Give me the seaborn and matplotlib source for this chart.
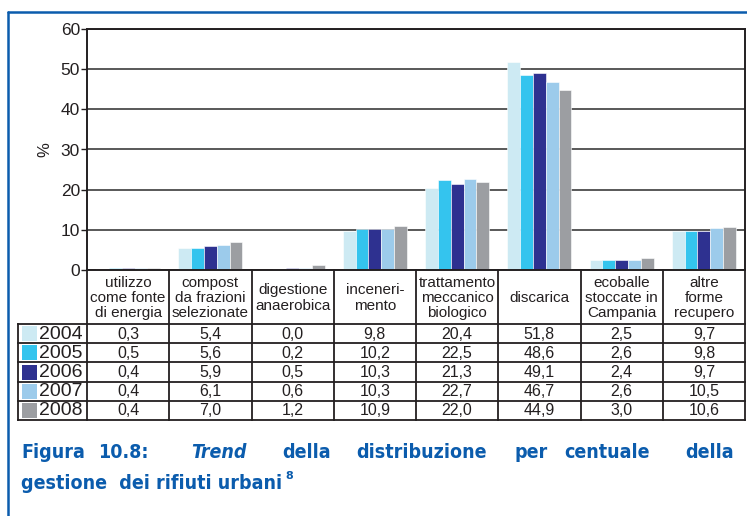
import matplotlib
matplotlib.use("Agg")
import matplotlib.pyplot as plt
from matplotlib.lines import Line2D
from matplotlib.patches import Rectangle
import seaborn as sns
import pandas as pd

# categorie (come nell'intestazione della tabella)
categorie = [
    "utilizzo\ncome fonte\ndi energia",
    "compost\nda frazioni\nselezionate",
    "digestione\nanaerobica",
    "inceneri-\nmento",
    "trattamento\nmeccanico\nbiologico",
    "discarica",
    "ecoballe\nstoccate in\nCampania",
    "altre\nforme\nrecupero",
]
anni = ["2004", "2005", "2006", "2007", "2008"]
v2004 = [0.3, 5.4, 0.0, 9.8, 20.4, 51.8, 2.5, 9.7]
v2005 = [0.5, 5.6, 0.2, 10.2, 22.5, 48.6, 2.6, 9.8]
v2006 = [0.4, 5.9, 0.5, 10.3, 21.3, 49.1, 2.4, 9.7]
v2007 = [0.4, 6.1, 0.6, 10.3, 22.7, 46.7, 2.6, 10.5]
v2008 = [0.4, 7.0, 1.2, 10.9, 22.0, 44.9, 3.0, 10.6]
valori = [v2004, v2005, v2006, v2007, v2008]
yticks = [0, 10, 20, 30, 40, 50, 60]

colori = ["#cdeaf3", "#34c4ee", "#2e3190", "#9ccbeb", "#9c9ea2"]
blu = "#0b5cad"
nero = "#231f20"

W, H = 747, 516
df = pd.DataFrame(
    [(c, a, v) for a, serie in zip(anni, valori) for c, v in zip(categorie, serie)],
    columns=["categoria", "anno", "valore"],
)

sns.set_style("white")
plt.rcParams["font.family"] = ["Liberation Sans", "DejaVu Sans"]

fig = plt.figure(figsize=(W / 100, H / 100), dpi=100)


def fx(px):
    return px / W


def fy(py):
    return 1 - py / H


# --- grafico a barre ---
ax = fig.add_axes([fx(87), fy(270), fx(745) - fx(87), fy(29) - fy(270)])
sns.barplot(
    data=df, x="categoria", y="valore", hue="anno", palette=colori,
    width=0.78, saturation=1, legend=False, ax=ax,
    edgecolor="white", linewidth=0.4,
)
ax.set_ylim(0, 60)
ax.set_xlim(-0.5, len(categorie) - 0.5)
ax.set_yticks(yticks)
ax.set_yticklabels([str(t) for t in yticks], fontsize=12.5, color=nero)
ax.tick_params(axis="y", length=4, width=1, color=nero, pad=1, left=True)
ax.tick_params(axis="x", bottom=False, labelbottom=False)
ax.set_xlabel("")
ax.set_ylabel("")
ax.set_axisbelow(True)
ax.yaxis.grid(True, color="#3c3c3c", linewidth=1.2)
for s in ax.spines.values():
    s.set_color(nero)
    s.set_linewidth(1.4)
    s.set_visible(True)
fig.text(fx(45), fy(150), "%", rotation=90, ha="center", va="center",
         fontsize=12, color=nero)

# --- tabella sotto il grafico ---
leg_w = (87 - 18) / 82.25
x0 = -0.5 - leg_w
tab = fig.add_axes([fx(18), fy(420), fx(745) - fx(18), fy(270) - fy(420)])
tab.set_xlim(x0, len(categorie) - 0.5)
tab.set_ylim(150, 0)
tab.axis("off")

head_h = 54
row_h = (150 - head_h) / len(anni)
lk = dict(color=nero, linewidth=1.3, clip_on=False, solid_capstyle="projecting")

for k in range(len(categorie) + 1):
    tab.plot([k - 0.5, k - 0.5], [0, 150], **lk)
tab.plot([x0, x0], [head_h, 150], **lk)
for r in range(len(anni) + 1):
    tab.plot([x0, len(categorie) - 0.5], [head_h + r * row_h] * 2, **lk)

for i, c in enumerate(categorie):
    tab.text(i, head_h / 2 + 1, c, ha="center", va="center", fontsize=11,
             linespacing=1.12, color=nero)

for r, (a, serie) in enumerate(zip(anni, valori)):
    yc = head_h + (r + 0.5) * row_h
    tab.add_patch(Rectangle((x0 + 4 / 82.25, yc - 7.5), 15 / 82.25, 15,
                            facecolor=colori[r], edgecolor="none", clip_on=False))
    tab.text(-0.5 - 4 / 82.25, yc + 0.5, a, ha="right", va="center",
             fontsize=14, color=nero)
    for i, v in enumerate(serie):
        tab.text(i, yc + 0.5, f"{v:.1f}".replace(".", ","), ha="center",
                 va="center", fontsize=11.5, color=nero)

# --- cornice blu ---
fig.add_artist(Line2D([fx(7.5), fx(7.5)], [fy(11.5), 0], color=blu, linewidth=1.8))
fig.add_artist(Line2D([fx(7.5), 1], [fy(11.5), fy(11.5)], color=blu, linewidth=1.8))

# --- didascalia (prima riga giustificata, parola per parola) ---
cap = dict(color=blu, fontsize=14, fontweight="bold", va="baseline",
           family=["DejaVu Sans"], fontstretch="condensed")
riga1 = [("Figura", 21, "normal"), ("10.8:", 98, "normal"), ("Trend", 191, "italic"),
         ("della", 282, "normal"), ("distribuzione", 356, "normal"), ("per", 514, "normal"),
         ("centuale", 564, "normal"), ("della", 685, "normal")]
for w, x, st in riga1:
    fig.text(fx(x), fy(458), w, style=st, **cap)
t2 = fig.text(fx(21), fy(489), "gestione  dei rifiuti urbani", **cap)
fig.canvas.draw()
bb = t2.get_window_extent()
fig.text(bb.x1 / W + fx(3), fy(479), "8", color=blu, fontsize=8, fontweight="bold",
         family=["DejaVu Sans"], va="baseline")

fig.savefig("out.png", dpi=100)
